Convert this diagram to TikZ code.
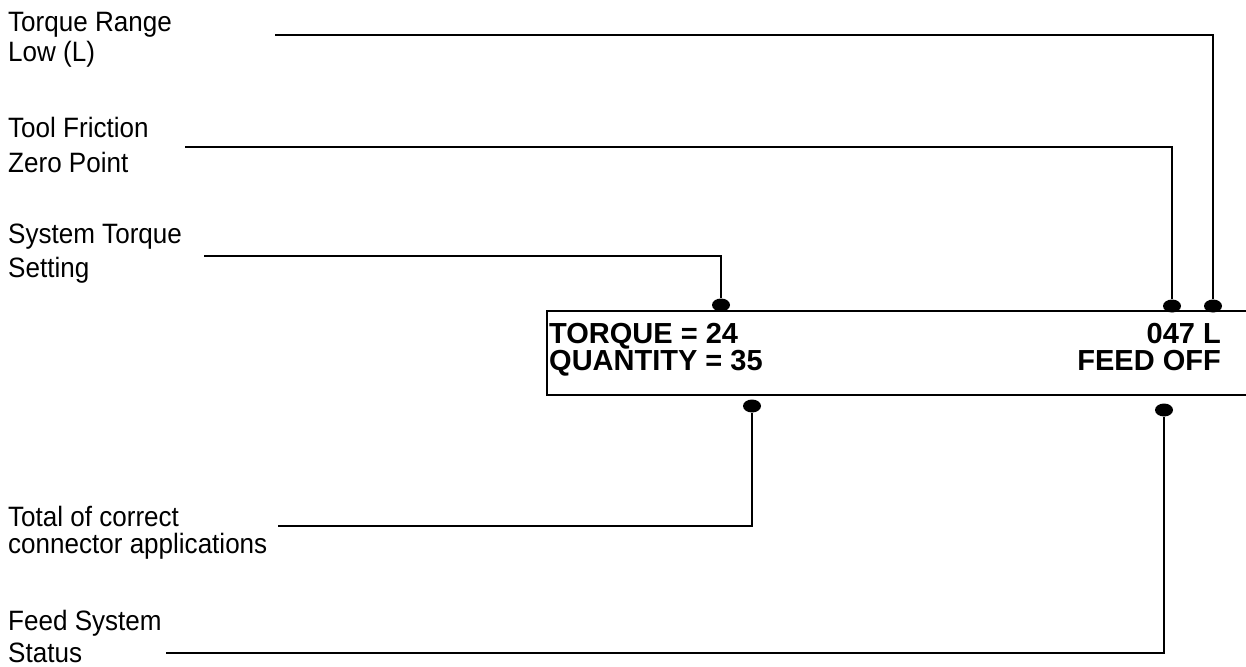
\documentclass[tikz,border=0pt]{standalone}
\usepackage{fontspec}
\setmainfont{Liberation Sans}
\newfontfamily\calloutfont[FakeStretch=0.93]{Liberation Sans}
\usetikzlibrary{shapes.geometric}

\tikzset{
  lbl/.style={anchor=base west, inner sep=0pt, font=\calloutfont\fontsize{28}{32}\selectfont},
  disp/.style={inner sep=0pt, font=\fontsize{29}{32}\selectfont\bfseries},
  pin/.style={ellipse, fill=black, draw=none, minimum width=18pt, minimum height=13pt, inner sep=0pt},
  lead/.style={line width=2.6pt},
  frame/.style={line width=1.5pt}
}

\begin{document}
\begin{tikzpicture}[x=1pt, y=-1pt]
\useasboundingbox (0,0) rectangle (1246,666);

% display window, open at the right edge
\draw[frame] (1246,311) -- (547,311) -- (547,395) -- (1246,395);

% display contents
\node[disp, anchor=base west] (torque) at (549,343) {TORQUE = 24};
\node[disp, anchor=base west] (qty) at (549,370) {QUANTITY = 35};
\node[disp, anchor=base east] (range) at (1221,343) {047 L};
\node[disp, anchor=base east] (feed) at (1221,370) {FEED OFF};

% connection points on the display
\node[pin] (pSet) at (721,305) {};
\node[pin] (pZero) at (1172,306) {};
\node[pin] (pRange) at (1213,306) {};
\node[pin] (pQty) at (752,406) {};
\node[pin] (pFeed) at (1164,410) {};

% callout labels
\node[lbl] (rangeA) at (8,32) {Torque Range};
\node[lbl] (rangeB) at (8,62) {Low (L)};
\node[lbl] (zeroA) at (8,137) {Tool Friction};
\node[lbl] (zeroB) at (8,172) {Zero Point};
\node[lbl] (setA) at (8,243) {System Torque};
\node[lbl] (setB) at (8,277) {Setting};
\node[lbl] (qtyA) at (8,526) {Total of correct};
\node[lbl] (qtyB) at (8,553) {connector applications};
\node[lbl] (feedA) at (8,630) {Feed System};
\node[lbl] (feedB) at (8,662) {Status};

% leader line starts
\coordinate (cRange) at (275,35);
\coordinate (cZero) at (185,147);
\coordinate (cSet) at (204,256);
\coordinate (cQty) at (278,526);
\coordinate (cFeed) at (166,653);

% leader lines
\draw[lead] (cRange) -| (pRange.north);
\draw[lead] (cZero) -| (pZero.north);
\draw[lead] (cSet) -| (pSet.north);
\draw[lead] (cQty) -| (pQty.south);
\draw[lead] (cFeed) -| (pFeed.south);
\end{tikzpicture}
\end{document}
